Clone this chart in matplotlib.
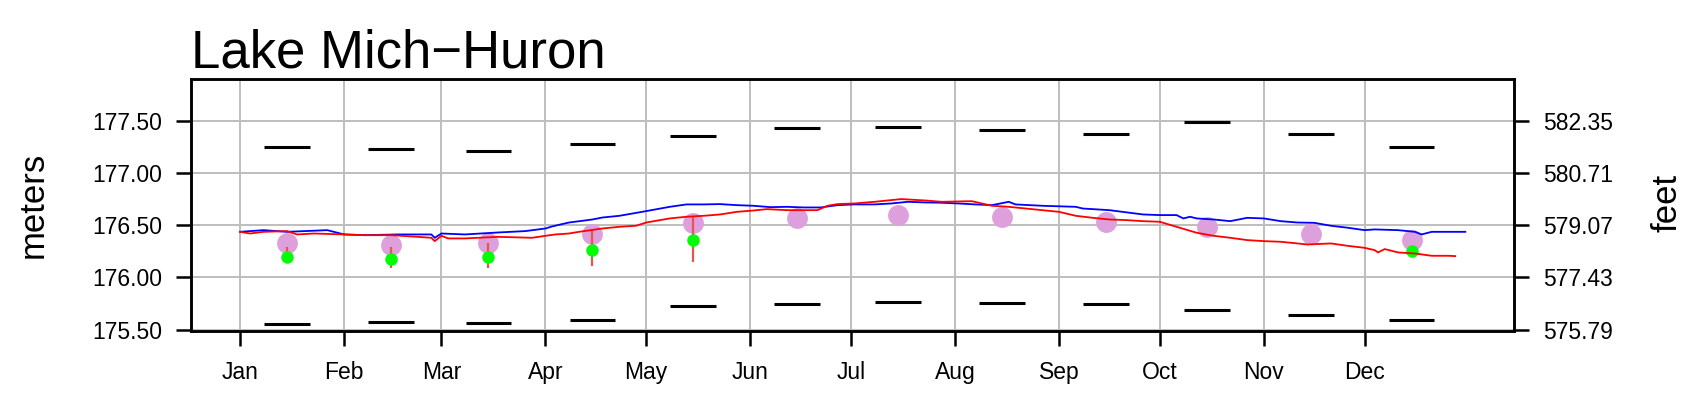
import numpy as np
import pandas as pd
import matplotlib
matplotlib.use("Agg")
import matplotlib.pyplot as plt

plt.rcParams['font.family'] = ['Liberation Sans', 'DejaVu Sans']

# ---------------- data ----------------
title = "Lake Mich\u2212Huron"
months = ['Jan', 'Feb', 'Mar', 'Apr', 'May', 'Jun',
          'Jul', 'Aug', 'Sep', 'Oct', 'Nov', 'Dec']
meter_ticks = [175.50, 176.00, 176.50, 177.00, 177.50]
feet_labels = ['575.79', '577.43', '579.07', '580.71', '582.35']

# monthly record high / low (m)
record_max = [177.247, 177.228, 177.211, 177.275, 177.352, 177.428,
              177.438, 177.409, 177.374, 177.489, 177.374, 177.247]
record_min = [175.554, 175.574, 175.564, 175.596, 175.727, 175.746,
              175.765, 175.755, 175.749, 175.691, 175.641, 175.596]
# long-term monthly mean (m)
lt_mean = [176.325, 176.309, 176.331, 176.414, 176.516, 176.570,
           176.596, 176.580, 176.532, 176.478, 176.411, 176.357]

# green points and their ranges
green_months = ['Jan', 'Feb', 'Mar', 'Apr', 'May', 'Dec']
green_vals = [176.197, 176.175, 176.197, 176.267, 176.357, 176.251]
range_months = ['Jan', 'Feb', 'Mar', 'Apr', 'May']
range_low = [176.134, 176.086, 176.086, 176.111, 176.149]
range_high = [176.293, 176.293, 176.325, 176.452, 176.583]

# daily series (day of year starting at 0 = Jan 1, value in m)
blue_day = [0, 7, 14, 26, 31, 37, 47, 53, 57, 58, 60, 67, 77, 85, 91, 93,
            98, 105, 108, 113, 121, 128, 133, 138, 143, 148, 153, 158, 163,
            168, 173, 178, 183, 189, 194, 199, 204, 209, 214, 219, 224, 229,
            231, 239, 249, 251, 259, 269, 274, 279, 281, 283, 285, 290, 295,
            300, 305, 310, 315, 320, 325, 330, 335, 338, 345, 350, 352, 355,
            360, 365]
blue_val = [176.436, 176.452, 176.436, 176.452, 176.411, 176.404, 176.411,
            176.411, 176.411, 176.379, 176.420, 176.411, 176.430, 176.443,
            176.468, 176.488, 176.525, 176.554, 176.573, 176.589, 176.634,
            176.675, 176.698, 176.698, 176.701, 176.691, 176.685, 176.672,
            176.675, 176.669, 176.669, 176.691, 176.698, 176.698, 176.707,
            176.723, 176.717, 176.714, 176.707, 176.698, 176.691, 176.723,
            176.698, 176.685, 176.675, 176.659, 176.643, 176.602, 176.596,
            176.596, 176.564, 176.580, 176.564, 176.554, 176.538, 176.570,
            176.564, 176.538, 176.525, 176.522, 176.494, 176.475, 176.452,
            176.459, 176.452, 176.436, 176.411, 176.436, 176.436, 176.436]

red_day = [0, 3, 7, 14, 17, 22, 31, 37, 45, 53, 57, 58, 60, 62, 67, 77, 87,
           91, 94, 98, 101, 108, 113, 118, 121, 128, 133, 138, 143, 148, 153,
           157, 163, 168, 172, 175, 178, 183, 189, 197, 204, 209, 218, 224,
           229, 234, 239, 244, 249, 254, 259, 264, 269, 274, 279, 285, 290,
           295, 300, 305, 310, 315, 318, 325, 330, 335, 338, 339, 341, 345,
           350, 355, 360, 362]
red_val = [176.436, 176.420, 176.436, 176.443, 176.411, 176.420, 176.411,
           176.404, 176.404, 176.388, 176.379, 176.347, 176.398, 176.373,
           176.373, 176.388, 176.379, 176.398, 176.411, 176.420, 176.436,
           176.468, 176.484, 176.494, 176.525, 176.564, 176.580, 176.589,
           176.602, 176.627, 176.640, 176.653, 176.643, 176.643, 176.643,
           176.685, 176.701, 176.707, 176.723, 176.749, 176.736, 176.723,
           176.729, 176.685, 176.675, 176.659, 176.643, 176.627, 176.589,
           176.570, 176.554, 176.548, 176.538, 176.532, 176.484, 176.427,
           176.398, 176.379, 176.357, 176.347, 176.341, 176.325, 176.315,
           176.325, 176.302, 176.283, 176.261, 176.239, 176.271, 176.239,
           176.229, 176.207, 176.207, 176.204]

# ---------------- positions ----------------
year_start = pd.Timestamp('2024-01-01')
month_start = [(pd.Timestamp(2024, m, 1) - year_start).days for m in range(1, 13)]
mid_month = [(pd.Timestamp(2024, m, 15) - year_start).days for m in range(1, 13)]
mid_of = dict(zip(months, mid_month))

W, H = 1703, 413
fig = plt.figure(figsize=(W / 100, H / 100), dpi=100)
ax = fig.add_axes([191 / W, (H - 331) / H, (1514.3 - 191) / W, (331 - 79.3) / H])

ax.set_xlim(-14.6, 379.6)
ax.set_ylim(175.488, 177.894)

# grid
for xs in month_start:
    ax.axvline(xs, color='#BEBEBE', lw=1.4, zorder=0)
for yt in meter_ticks:
    ax.axhline(yt, color='#BEBEBE', lw=1.4, zorder=0)

half = 6.8
xm = np.array(mid_month)
ax.hlines(record_max, xm - half, xm + half, colors='black', lw=2.2, zorder=2)
ax.hlines(record_min, xm - half, xm + half, colors='black', lw=2.2, zorder=2)

ax.plot(mid_month, lt_mean, 'o', ms=15, color='#DDA0DD', mec='none', zorder=3)
rx = [mid_of[m] for m in range_months]
ax.vlines(rx, range_low, range_high, colors='#E8554A', lw=1.6, zorder=4)
gx = [mid_of[m] for m in green_months]
ax.plot(gx, green_vals, 'o', ms=9, color='#00FF00', mec='none', zorder=5)

ax.plot(blue_day, blue_val, color='#0000FF', lw=1.3, zorder=6)
ax.plot(red_day, red_val, color='#FF0000', lw=1.3, zorder=7)

ax.set_xticks(month_start)
ax.set_xticklabels(months)
ax.set_yticks(meter_ticks)
ax.set_yticklabels([f"{v:.2f}" for v in meter_ticks])
for s in ax.spines.values():
    s.set_linewidth(1.8)
ax.tick_params(axis='both', length=10.8, width=1.8, labelsize=16.5, pad=10)
ax.tick_params(axis='x', pad=11)

ax2 = ax.twinx()
ax2.set_ylim(ax.get_ylim())
ax2.set_yticks(meter_ticks)
ax2.set_yticklabels(feet_labels)
ax2.tick_params(axis='y', length=10.8, width=1.8, labelsize=16.5, pad=10)
for s in ax2.spines.values():
    s.set_linewidth(1.8)

fig.text(191 / W, (H - 67) / H, title, fontsize=38, ha='left', va='baseline')
fig.text(33 / W, (H - 205) / H, 'meters', fontsize=25, rotation=90,
         ha='center', va='center')
fig.text(1666.7 / W, (H - 203) / H, 'feet', fontsize=25, rotation=90,
         ha='center', va='center')

fig.savefig('out.png', dpi=100)
